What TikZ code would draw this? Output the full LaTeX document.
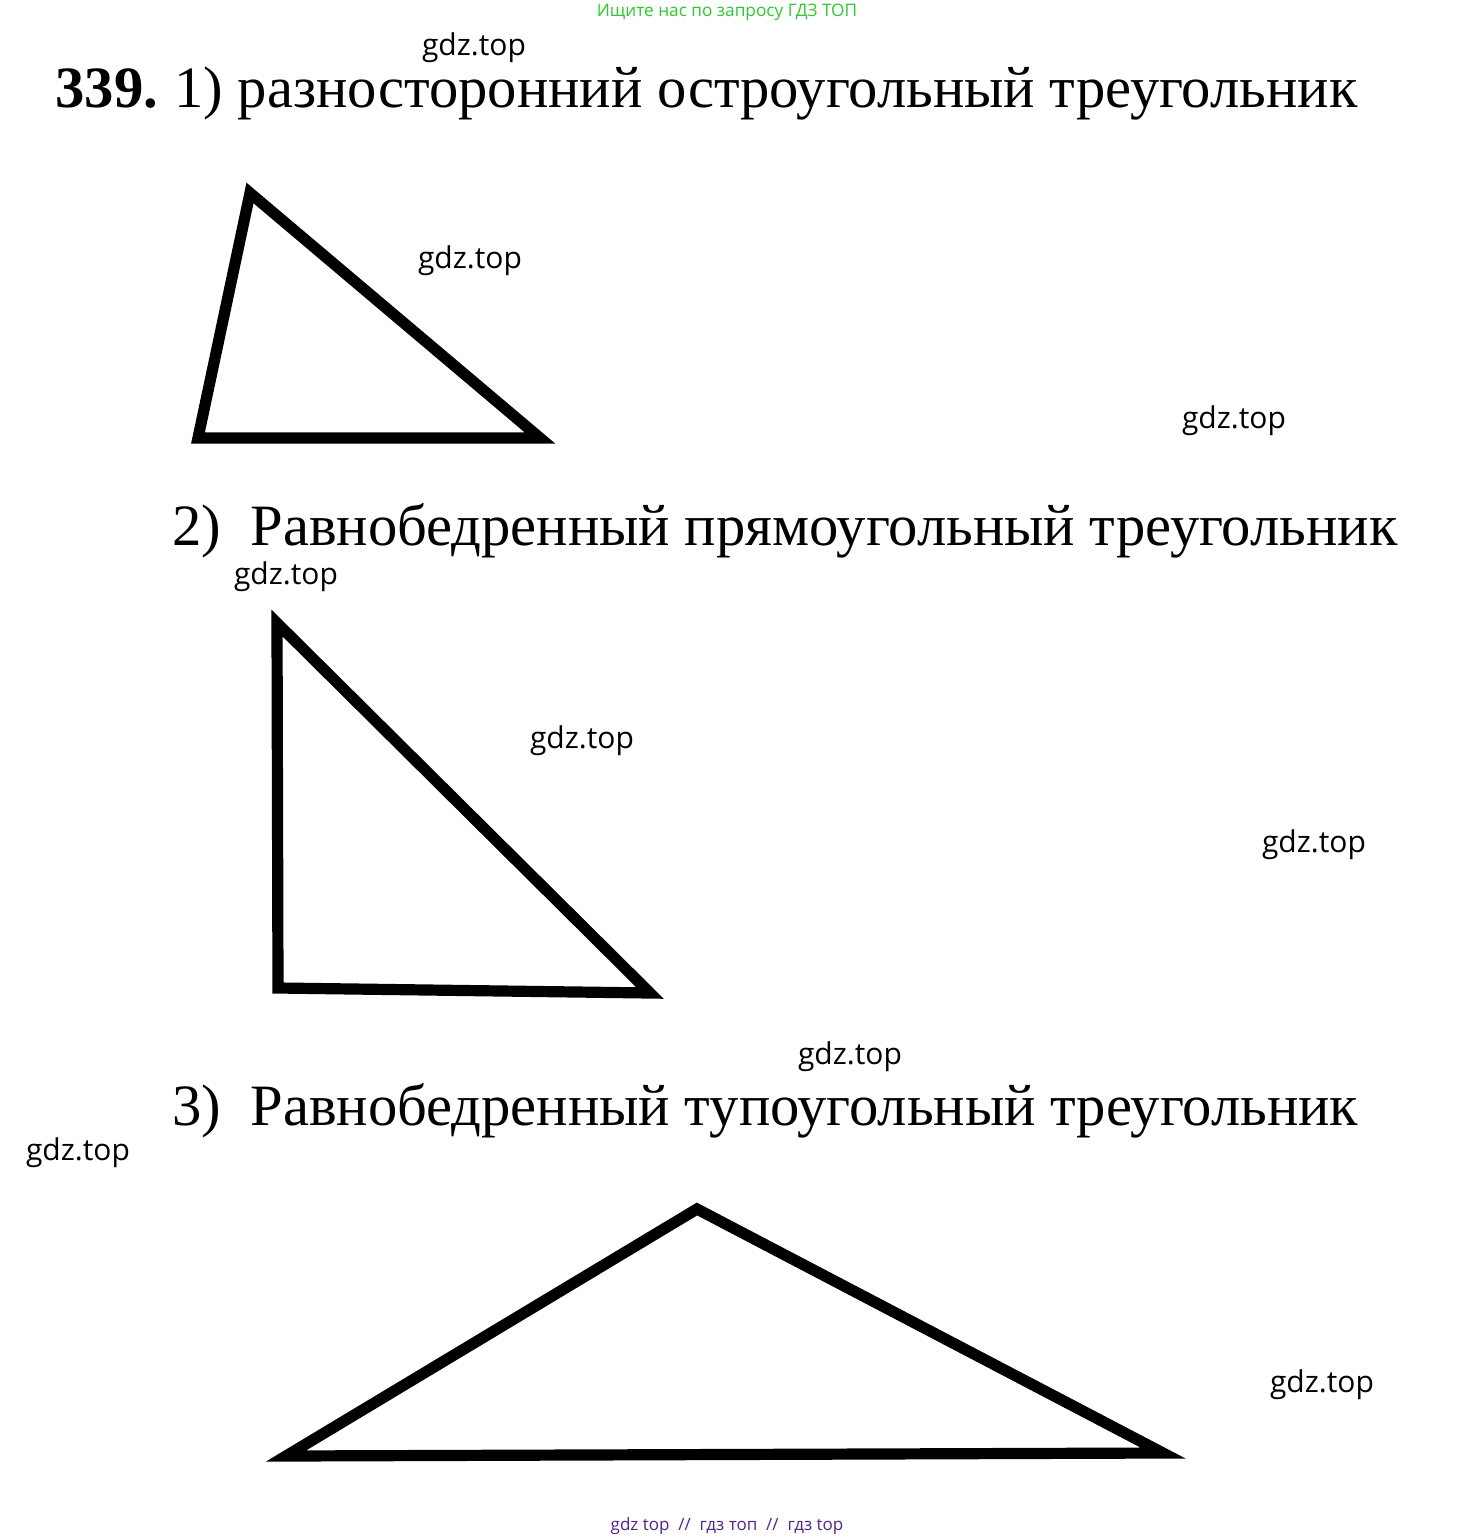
\documentclass[tikz,border=0pt]{standalone}
\usepackage{fontspec}
\setmainfont{Liberation Serif}
\newfontfamily\wmfont{Open Sans}
\usetikzlibrary{positioning}

\definecolor{hdrgreen}{RGB}{45,200,45}
\definecolor{ftrpurple}{RGB}{85,35,135}

\begin{document}
\begin{tikzpicture}[x=0.5pt,y=-0.5pt, line join=miter]

  \tikzstyle{title}=[anchor=base west,inner sep=0pt,font=\fontsize{29.3}{35}\selectfont]
  \tikzstyle{wmark}=[inner sep=0pt,font=\wmfont\fontsize{15}{18}\selectfont,text=black]
  \tikzstyle{tri}=[draw=black,line width=5.6pt]

  \useasboundingbox (0,0) rectangle (1456,1540);

  \node[inner sep=0pt,text=hdrgreen,font=\wmfont\fontsize{8.6}{10}\selectfont] (hdr) at (727,12) {Ищите нас по запросу ГДЗ ТОП};
  \node[inner sep=0pt,text=ftrpurple,font=\wmfont\fontsize{8.5}{10}\selectfont] (ftr) at (727,1526) {gdz top \ // \ гдз топ \ // \ гдз top};

  % headings
  \node[title] (t1) at (55,108) {\textbf{339.}\hspace{-1.5pt} 1) разносторонний остроугольный треугольник};
  \node[title] (t2) at (172,545) {2) \ Равнобедренный прямоугольный треугольник};
  \node[title] (t3) at (172,1125) {3) \ Равнобедренный тупоугольный треугольник};

  % triangles
  \coordinate (a1) at (250,193);
  \coordinate (b1) at (198,438);
  \coordinate (c1) at (540,438);
  \draw[tri] (a1) -- (b1) -- (c1) -- cycle;

  \coordinate (a2) at (277,623);
  \coordinate (b2) at (278,988);
  \coordinate (c2) at (650,993);
  \draw[tri] (a2) -- (b2) -- (c2) -- cycle;

  \coordinate (a3) at (697,1209);
  \coordinate (b3) at (286,1456);
  \coordinate (c3) at (1163,1453);
  \draw[tri] (a3) -- (b3) -- (c3) -- cycle;

  % watermarks
  \node[wmark] (w1) at (474,48) {gdz.top};
  \node[wmark] (w2) at (470,261) {gdz.top};
  \node[wmark] (w3) at (1234,421) {gdz.top};
  \node[wmark] (w4) at (286,577) {gdz.top};
  \node[wmark] (w5) at (582,741) {gdz.top};
  \node[wmark] (w6) at (1314,845) {gdz.top};
  \node[wmark] (w7) at (850,1057) {gdz.top};
  \node[wmark] (w8) at (78,1153) {gdz.top};
  \node[wmark] (w9) at (1322,1385) {gdz.top};

\end{tikzpicture}
\end{document}
